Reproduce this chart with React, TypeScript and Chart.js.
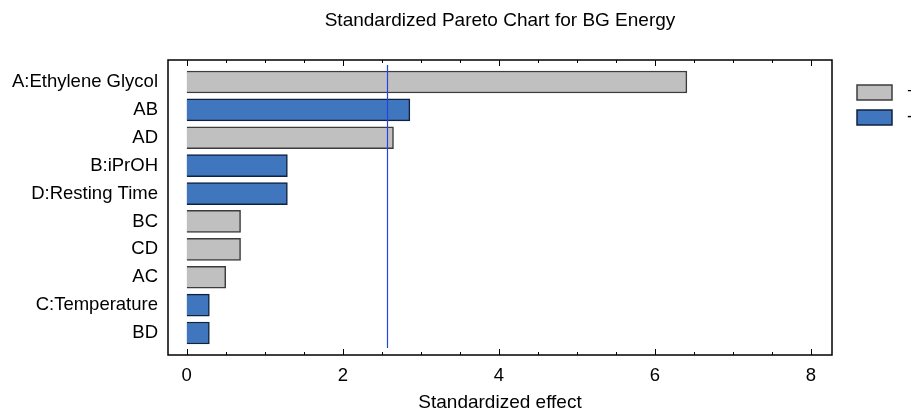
import React, { useEffect, useRef } from "react";
import { Chart, registerables } from "chart.js";

Chart.register(...registerables);

const TITLE = "Standardized Pareto Chart for BG Energy";
const X_TITLE = "Standardized effect";
const FACTORS = [
  "A:Ethylene Glycol",
  "AB",
  "AD",
  "B:iPrOH",
  "D:Resting Time",
  "BC",
  "CD",
  "AC",
  "C:Temperature",
  "BD",
];
const EFFECTS = [6.41, 2.86, 2.65, 1.29, 1.29, 0.69, 0.69, 0.5, 0.29, 0.29];
const SIGNS = ["+", "-", "+", "-", "-", "+", "+", "+", "-", "-"];
const LEGEND_LABELS = ["+", "-"];
const CRITICAL_VALUE = 2.571;
const X_TICKS = [0, 2, 4, 6, 8];

const FONT = "'Liberation Sans', Arial, sans-serif";
const GRAY = "#c0c0c0";
const GRAY_BORDER = "#3c3c3c";
const BLUE = "#3f76bd";
const BLUE_BORDER = "#10223f";

const framePlugin = {
  id: "frame",
  afterDatasetsDraw(chart: any) {
    const { ctx, chartArea: a, scales } = chart;
    const x = scales.x;
    ctx.save();
    // critical line
    const cx = Math.round(x.getPixelForValue(CRITICAL_VALUE)) + 0.5;
    ctx.strokeStyle = "#2246dd";
    ctx.lineWidth = 1.2;
    ctx.beginPath();
    ctx.moveTo(cx, a.top + 5);
    ctx.lineTo(cx, a.bottom - 7);
    ctx.stroke();
    // frame
    ctx.strokeStyle = "#000";
    ctx.lineWidth = 1.5;
    ctx.strokeRect(a.left, a.top, a.right - a.left, a.bottom - a.top);
    // inward ticks
    ctx.lineWidth = 1;
    for (let i = 0; i <= 16; i++) {
      const v = i * 0.5;
      const px = Math.round(x.getPixelForValue(v)) + 0.5;
      const len = i % 4 === 0 ? 6 : 3;
      ctx.beginPath();
      ctx.moveTo(px, a.top);
      ctx.lineTo(px, a.top + len);
      ctx.moveTo(px, a.bottom);
      ctx.lineTo(px, a.bottom - len);
      ctx.stroke();
    }
    ctx.restore();
  },
  afterDraw(chart: any) {
    const { ctx } = chart;
    ctx.save();
    const fills = [GRAY, BLUE];
    const borders = [GRAY_BORDER, BLUE_BORDER];
    LEGEND_LABELS.forEach((lab, i) => {
      const y = 85 + i * 25;
      ctx.fillStyle = fills[i];
      ctx.fillRect(857, y, 35, 15);
      ctx.strokeStyle = borders[i];
      ctx.lineWidth = 1.5;
      ctx.strokeRect(857, y, 35, 15);
      ctx.fillStyle = "#000";
      ctx.font = `18px ${FONT}`;
      ctx.textBaseline = "middle";
      ctx.textAlign = "left";
      ctx.fillText(lab, 907, y + 7.5);
    });
    ctx.restore();
  },
};

export default function App() {
  const ref = useRef<HTMLCanvasElement>(null);
  useEffect(() => {
    document.body.style.margin = "0";
    const idx = FACTORS.map((_, i) => i);
    const pos = idx.filter((i) => SIGNS[i] === "+").map((i) => ({ x: EFFECTS[i], y: i }));
    const neg = idx.filter((i) => SIGNS[i] === "-").map((i) => ({ x: EFFECTS[i], y: i }));
    const chart = new Chart(ref.current as HTMLCanvasElement, {
      type: "bar",
      data: {
        datasets: [
          {
            label: LEGEND_LABELS[0],
            data: pos as any,
            backgroundColor: GRAY,
            borderColor: GRAY_BORDER,
            borderWidth: 1.5,
            barThickness: 22,
            grouped: false,
          } as any,
          {
            label: LEGEND_LABELS[1],
            data: neg as any,
            backgroundColor: BLUE,
            borderColor: BLUE_BORDER,
            borderWidth: 1.5,
            barThickness: 22,
            grouped: false,
          } as any,
        ],
      },
      options: {
        animation: false,
        responsive: true,
        maintainAspectRatio: false,
        indexAxis: "y",
        layout: { padding: { right: 79, left: 0, top: 0, bottom: 0 } },
        plugins: {
          legend: { display: false },
          tooltip: { enabled: false },
          title: {
            display: true,
            text: TITLE,
            fullSize: false,
            color: "#000",
            font: { family: FONT, size: 19, weight: "normal" },
            padding: { top: 9, bottom: 28.2 },
          },
        },
        scales: {
          x: {
            type: "linear",
            min: -0.24,
            max: 8.27,
            grid: { display: false, drawTicks: false },
            border: { display: false },
            afterBuildTicks: (s: any) => {
              s.ticks = X_TICKS.map((v) => ({ value: v }));
            },
            afterFit: (s: any) => {
              s.height = 57;
            },
            ticks: {
              autoSkip: false,
              maxRotation: 0,
              padding: 10,
              color: "#000",
              font: { family: FONT, size: 18.5 },
            },
            title: {
              display: true,
              text: X_TITLE,
              color: "#000",
              font: { family: FONT, size: 19, lineHeight: 1.0 },
              padding: { top: 0, bottom: 0 },
            },
          },
          y: {
            type: "linear",
            reverse: true,
            offset: false,
            min: -0.79,
            max: 9.79,
            grid: { display: false, drawTicks: false },
            border: { display: false },
            afterBuildTicks: (s: any) => {
              s.ticks = FACTORS.map((_, i) => ({ value: i }));
            },
            afterFit: (s: any) => {
              s.width = 168;
            },
            ticks: {
              autoSkip: false,
              padding: 10,
              color: "#000",
              font: { family: FONT, size: 18.5 },
              callback: (v: any) => FACTORS[v as number] ?? "",
            },
          },
        },
      },
      plugins: [framePlugin],
    });
    return () => chart.destroy();
  }, []);
  return (
    <div style={{ position: "relative", width: 911, height: 412 }}>
      <canvas ref={ref} />
    </div>
  );
}
